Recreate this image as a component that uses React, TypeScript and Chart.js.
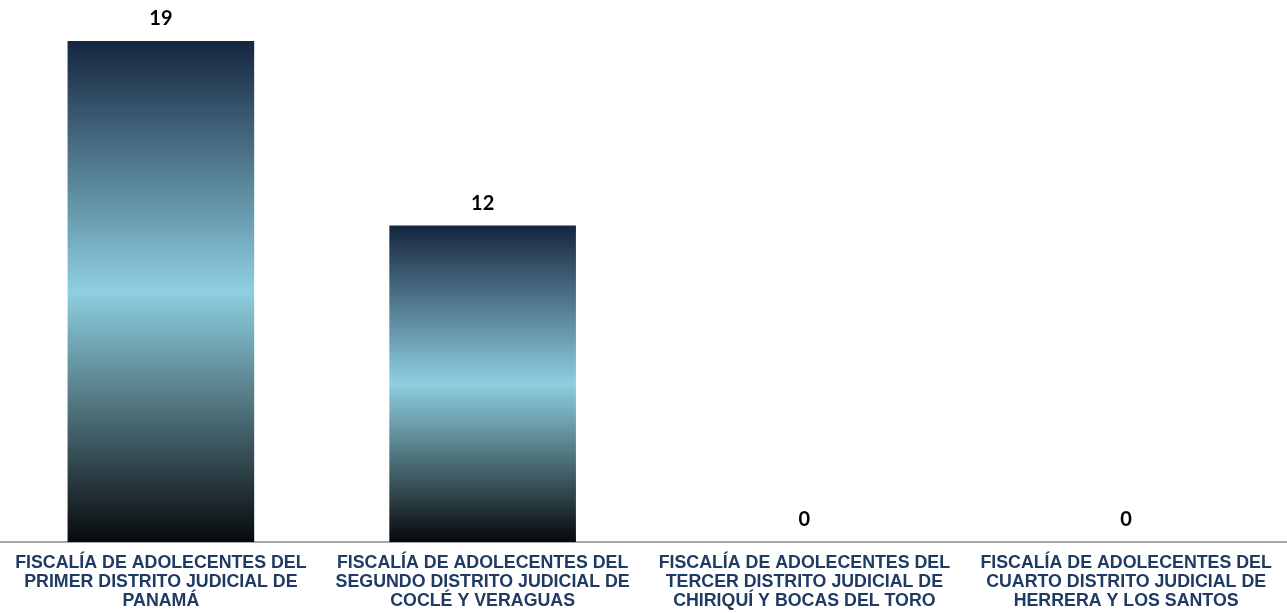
import React, { useEffect, useRef } from "react";
import { Chart, registerables } from "chart.js";

Chart.register(...registerables);

const categories: string[][] = [
  ["FISCALÍA DE ADOLECENTES DEL", "PRIMER DISTRITO JUDICIAL DE", "PANAMÁ"],
  ["FISCALÍA DE ADOLECENTES DEL", "SEGUNDO DISTRITO JUDICIAL DE", "COCLÉ Y VERAGUAS"],
  ["FISCALÍA DE ADOLECENTES DEL", "TERCER DISTRITO JUDICIAL DE", "CHIRIQUÍ Y BOCAS DEL TORO"],
  ["FISCALÍA DE ADOLECENTES DEL", "CUARTO DISTRITO JUDICIAL DE", "HERRERA Y LOS SANTOS"],
];
const values: number[] = [19, 12, 0, 0];

const valueLabelPlugin = {
  id: "valueLabels",
  afterDatasetsDraw(chart: any) {
    const ctx = chart.ctx;
    const meta = chart.getDatasetMeta(0);
    ctx.save();
    ctx.font = "bold 20px Lato, 'Liberation Sans', sans-serif";
    ctx.fillStyle = "#000000";
    ctx.textAlign = "center";
    ctx.textBaseline = "middle";
    meta.data.forEach((bar: any, i: number) => {
      const v = chart.data.datasets[0].data[i];
      ctx.fillText(String(v), bar.x, bar.y - 22);
    });
    ctx.restore();
  },
};

export default function App() {
  const ref = useRef<HTMLCanvasElement>(null);
  useEffect(() => {
    if (!ref.current) return;
    const chart = new Chart(ref.current, {
      type: "bar",
      data: {
        labels: categories,
        datasets: [
          {
            data: values,
            barPercentage: 0.58,
            categoryPercentage: 1,
            borderWidth: 0,
            backgroundColor: (context: any) => {
              const c = context.chart;
              const y = c.scales && c.scales.y;
              if (!c.chartArea || !y || context.type !== "data") return "#5d8fa3";
              const v = context.raw as number;
              const top = y.getPixelForValue(v);
              const bottom = y.getPixelForValue(0);
              if (bottom - top < 1) return "#5d8fa3";
              const g = c.ctx.createLinearGradient(0, top, 0, bottom);
              g.addColorStop(0, "#15263f");
              g.addColorStop(0.5, "#8ecfe0");
              g.addColorStop(1, "#07090b");
              return g;
            },
          },
        ],
      },
      options: {
        responsive: false,
        animation: false,
        layout: { padding: { top: 41, left: 0, right: 0, bottom: -2 } },
        plugins: {
          legend: { display: false },
          tooltip: { enabled: false },
          title: { display: false },
        },
        scales: {
          y: {
            display: false,
            min: 0,
            max: 19,
          },
          x: {
            grid: { display: false },
            border: { display: true, color: "#a6a6a6", width: 2 },
            ticks: {
              autoSkip: false,
              maxRotation: 0,
              minRotation: 0,
              padding: 4,
              color: "#1f3b63",
              font: { family: "'Liberation Sans', Arial, sans-serif", size: 17.8, weight: "bold", lineHeight: "19px" },
            },
          },
        },
      },
      plugins: [valueLabelPlugin],
    });
    return () => chart.destroy();
  }, []);
  return (
    <div style={{ position: "fixed", left: 0, top: 0, width: 1287, height: 613, background: "#ffffff" }}>
      <canvas ref={ref} width={1287} height={613} style={{ display: "block" }} />
    </div>
  );
}
